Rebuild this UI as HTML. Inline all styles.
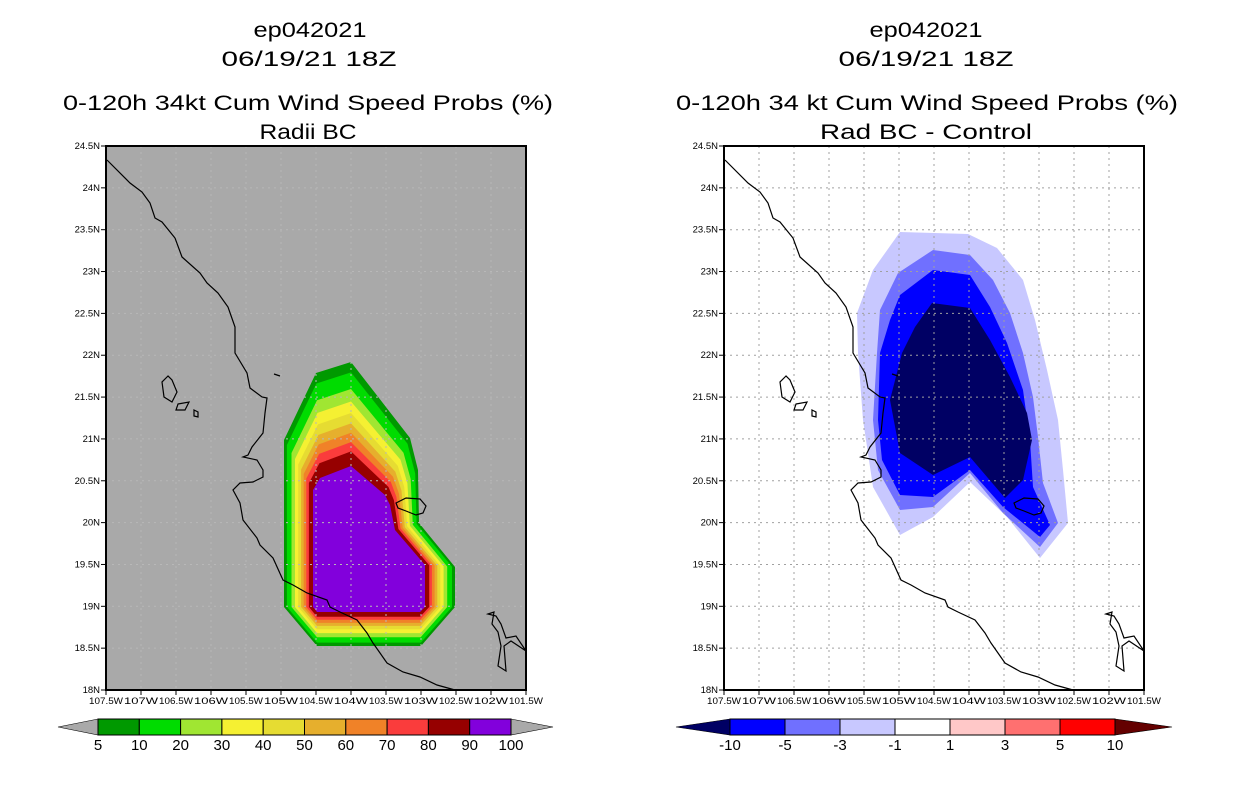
<!DOCTYPE html>
<html><head><meta charset="utf-8"><style>
body{margin:0;background:#fff;}
svg{display:block;font-family:"Liberation Sans",sans-serif;}
</style></head><body>
<svg id="s" width="1236" height="800" viewBox="0 0 1236 800">
<g font-size="21" text-anchor="middle" fill="#000" lengthAdjust="spacingAndGlyphs">
<text x="310" y="37" textLength="113" lengthAdjust="spacingAndGlyphs">ep042021</text><text x="309" y="66" textLength="175" lengthAdjust="spacingAndGlyphs">06/19/21 18Z</text>
<text x="308" y="110" textLength="490" lengthAdjust="spacingAndGlyphs">0-120h 34kt Cum Wind Speed Probs (%)</text><text x="308" y="139" textLength="97" lengthAdjust="spacingAndGlyphs">Radii BC</text></g>
<g font-size="21" text-anchor="middle" fill="#000">
<text x="926" y="37" textLength="113" lengthAdjust="spacingAndGlyphs">ep042021</text><text x="926" y="66" textLength="175" lengthAdjust="spacingAndGlyphs">06/19/21 18Z</text>
<text x="927" y="110" textLength="502" lengthAdjust="spacingAndGlyphs">0-120h 34 kt Cum Wind Speed Probs (%)</text><text x="926" y="139" textLength="212" lengthAdjust="spacingAndGlyphs">Rad BC - Control</text></g>
<rect x="106" y="146" width="420" height="544" fill="#a9a9a9"/>
<rect x="724" y="146" width="419" height="544" fill="#fff"/>
<g id="L"></g><g id="R"></g><g id="C"></g>
</svg>
<script>
const NS="http://www.w3.org/2000/svg";
function mk(p,t,a){const e=document.createElementNS(NS,t);for(const k in a)e.setAttribute(k,a[k]);p.appendChild(e);return e;}
const latTicks=["18N","18.5N","19N","19.5N","20N","20.5N","21N","21.5N","22N","22.5N","23N","23.5N","24N","24.5N"];
const lonTicks=["107.5W","107W","106.5W","106W","105.5W","105W","104.5W","104W","103.5W","103W","102.5W","102W","101.5W"];
const probLevels=["5","10","20","30","40","50","60","70","80","90","100"];
const probColors=["#009900","#00dc00","#a0e632","#f5f032","#e6dc32","#e6af2d","#f08228","#fa3c3c","#960000","#8200dc"];
const diffLevels=["-10","-5","-3","-1","1","3","5","10"];
const diffColors=["#0000ff","#7070ff","#c8c8ff","#ffffff","#ffc8c8","#ff7070","#ff0000"];
const outerProb=[[178,461],[178,294],[210,227],[245,216],[304,292],[312,324],[313,377],[349,421],[349,461],[315,500],[211,500]];
const innerProb=[[207,461],[207,344],[214,332],[245,320],[279,349],[284,359],[289,384],[319,419],[319,461],[314,466],[211,466]];
const bandT=[0,0.1,0.26,0.38,0.49,0.59,0.68,0.77,0.86];
const diffPolys=[
[[176,86],[244,88],[273,102],[299,134],[311,174],[323,224],[334,274],[339,324],[344,377],[316,412],[283,371],[246,336],[209,371],[176,389],[149,341],[139,274],[134,207],[133,167],[149,124]],
[[174,127],[209,104],[246,109],[269,134],[286,167],[299,207],[309,251],[314,291],[319,337],[334,377],[316,401],[279,367],[246,327],[209,361],[176,364],[154,324],[149,274],[153,207],[156,164]],
[[176,149],[209,124],[246,129],[266,161],[283,197],[299,244],[306,294],[309,341],[326,379],[316,391],[279,361],[246,324],[209,351],[176,349],[158,314],[154,274],[156,207],[166,174]],
[[208,157],[246,162],[266,194],[286,231],[303,267],[308,294],[299,334],[281,352],[246,311],[209,329],[176,307],[166,254],[178,207],[191,181]]];
const diffFill=["#c8c8ff","#7070ff","#0000ff","#000064"];
const coast=[[1,14],[24,37],[36,46],[44,57],[49,72],[56,76],[69,92],[76,111],[94,127],[101,137],[112,147],[122,161],[129,181],[129,207],[141,227],[144,242],[156,251],[161,252],[159,267],[157,287],[146,301],[142,309],[137,311],[151,314],[157,324],[157,331],[147,336],[134,337],[127,344],[134,357],[137,374],[151,392],[154,399],[167,412],[177,434],[187,439],[201,447],[221,454],[224,461],[234,466],[251,474],[261,487],[267,497],[281,517],[297,526],[314,531],[331,539],[349,544]];
const islands=[[[62,230],[56,236],[58,251],[66,256],[71,246],[66,234]],[[72,258],[83,256],[79,264],[70,264]],[[88,264],[92,266],[92,271],[88,270]]];
const lake=[[290,357],[300,352],[314,353],[320,360],[317,367],[310,369],[300,365],[292,362]];
const bayIsl=[[382,468],[388,466],[386,478],[392,486],[395,500],[392,520],[400,525],[398,500],[405,495],[420,505],[410,490],[400,492],[395,478],[390,470]];
const W=420,H=544;
function xs(i){return i*W/12;} function ys(i){return H-i*H/13;}
function panel(g,ox,isLeft){
  const root=mk(g,"g",{transform:`translate(${ox},146)`});
  
  
  if(isLeft){
    for(let k=0;k<10;k++){const t=k<9?bandT[k]:1;
      const pts=outerProb.map((p,i)=>[(p[0]+(innerProb[i][0]-p[0])*t).toFixed(1),(p[1]+(innerProb[i][1]-p[1])*t).toFixed(1)].join(",")).join(" ");
      const pg=mk(root,"polygon",{points:pts,fill:probColors[k]});
      
      }
  } else {
    diffPolys.forEach((poly,k)=>{const pg=mk(root,"polygon",{points:poly.map(p=>p.join(",")).join(" "),fill:diffFill[k]});
      
      });
  }
  const grid=mk(root,"g",{stroke:isLeft?"#b8b8b8":"#a0a0a0","stroke-width":1,"stroke-dasharray":"2,4"});
  
  
  for(let i=1;i<12;i++)mk(grid,"line",{x1:xs(i),x2:xs(i),y1:0,y2:H});
  for(let i=1;i<13;i++)mk(grid,"line",{y1:ys(i),y2:ys(i),x1:0,x2:W});
  const cl=mk(root,"g",{fill:"none",stroke:"#000","stroke-width":1.2});
  
  
  mk(cl,"polyline",{points:coast.map(p=>p.join(",")).join(" ")});
  islands.concat([lake,bayIsl]).forEach(p=>mk(cl,"polygon",{points:p.map(q=>q.join(",")).join(" ")}));
  mk(cl,"line",{x1:168,y1:228,x2:174,y2:230});
  const fr=mk(root,"rect",{x:0,y:0,width:W,height:H,fill:"none",stroke:"#000","stroke-width":2});
  
  
  const ax=mk(root,"g",{"font-size":"9.5",fill:"#000"});
  
  
  latTicks.forEach((l,i)=>{mk(ax,"line",{x1:-5,x2:0,y1:ys(i),y2:ys(i),stroke:"#000"});
    const t=mk(ax,"text",{x:-6,y:ys(i)+3,"text-anchor":"end"});t.textContent=l;});
  lonTicks.forEach((l,i)=>{mk(ax,"line",{x1:xs(i),x2:xs(i),y1:H,y2:H+5,stroke:"#000"});
    const t=mk(ax,"text",{x:xs(i),y:H+14,"text-anchor":"middle",textLength:34,lengthAdjust:"spacingAndGlyphs"});t.textContent=l;});
}
panel(document.getElementById("L"),106,true);
panel(document.getElementById("R"),724,false);
const C=document.getElementById("C");
function cbar(x0,x1,tipL,tipR,cols,labs,lc,rc,name){
  const g=mk(C,"g",{});
  
  
  const y0=719,y1=735,ym=727,w=(x1-x0)/cols.length;
  mk(g,"polygon",{points:`${x0},${y0} ${tipL},${ym} ${x0},${y1}`,fill:lc,stroke:"#000","stroke-width":0.6});
  mk(g,"polygon",{points:`${x1},${y0} ${tipR},${ym} ${x1},${y1}`,fill:rc,stroke:"#000","stroke-width":0.6});
  cols.forEach((c,i)=>mk(g,"rect",{x:x0+i*w,y:y0,width:w,height:y1-y0,fill:c,stroke:"#000","stroke-width":1}));
  labs.forEach((l,i)=>{const t=mk(g,"text",{x:x0+i*w,y:750,"text-anchor":"middle","font-size":"15"});t.textContent=l;});
}
cbar(98,511,58,553,probColors,probLevels,"#a9a9a9","#a9a9a9","prob-colorbar");
cbar(730,1115,676,1172,diffColors,diffLevels,"#000064","#640000","diff-colorbar");
</script>
</body></html>
